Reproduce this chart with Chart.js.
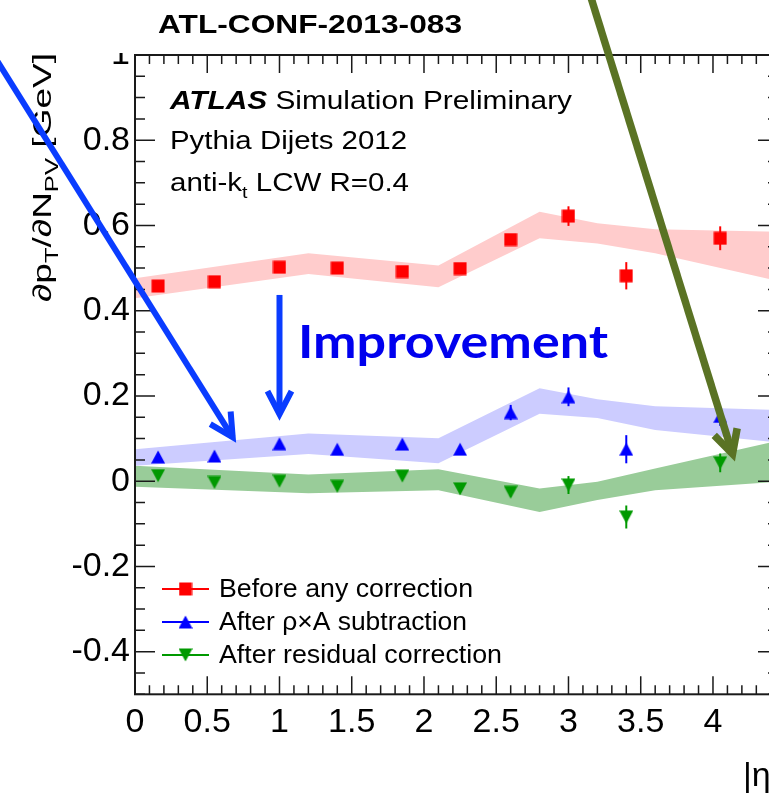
<!DOCTYPE html>
<html>
<head>
<meta charset="utf-8">
<script src="https://cdn.jsdelivr.net/npm/chart.js@4.4.0/dist/chart.umd.min.js"></script>
<style>
  html, body { margin: 0; padding: 0; background: #fff; overflow: hidden; }
  canvas { display: block; }
</style>
</head>
<body>
<canvas id="c" width="790" height="793"></canvas>
<script>
// |eta| bin centres
const eta = [0.16, 0.55, 1.0, 1.4, 1.85, 2.25, 2.6, 3.0, 3.4, 4.05];

// dpT/dNPV [GeV] at each stage, with statistical errors
const beforeVals   = [0.458, 0.468, 0.502, 0.500, 0.492, 0.499, 0.567, 0.622, 0.482, 0.570];
const beforeErr    = [0.006, 0.006, 0.006, 0.006, 0.006, 0.006, 0.010, 0.023, 0.032, 0.028];
const rhoAVals     = [0.057, 0.059, 0.088, 0.075, 0.087, 0.075, 0.161, 0.198, 0.075, 0.152];
const rhoAErr      = [0.006, 0.006, 0.006, 0.006, 0.006, 0.006, 0.018, 0.022, 0.033, 0.022];
const residualVals = [0.013, -0.003, 0.000, -0.012, 0.012, -0.018, -0.026, -0.009, -0.084, 0.043];
const residualErr  = [0.006, 0.006, 0.006, 0.006, 0.006, 0.006, 0.010, 0.021, 0.027, 0.022];

// shaded bands (upper / lower edges)
const bandEta    = [0, 1.2, 2.1, 2.8, 3.2, 3.6, 4.45];
const beforeHi   = [0.476, 0.535, 0.506, 0.632, 0.605, 0.591, 0.585];
const beforeLo   = [0.429, 0.486, 0.455, 0.570, 0.558, 0.535, 0.470];
const rhoAHi     = [0.075, 0.112, 0.101, 0.218, 0.192, 0.176, 0.167];
const rhoALo     = [0.036, 0.064, 0.042, 0.158, 0.148, 0.120, 0.091];
const residualHi = [0.036, 0.016, 0.028, -0.017, -0.001, 0.030, 0.095];
const residualLo = [-0.013, -0.028, -0.021, -0.072, -0.044, -0.021, -0.001];

const xTicks = [0, 0.5, 1, 1.5, 2, 2.5, 3, 3.5, 4];
const yTicks = [-0.4, -0.2, 0, 0.2, 0.4, 0.6, 0.8, 1];
const legendLabels = ['Before any correction', 'After \u03C1\u00D7A subtraction', 'After residual correction'];

// arrows, in (|eta|, dpT/dNPV) units
const arrows = [
  { from: [-0.97, 0.995], to: [0.70, 0.090], color: '#0a3cff', width: 6 },
  { from: [1.0, 0.437], to: [1.0, 0.142], color: '#0a3cff', width: 6 },
  { from: [3.15, 1.141], to: [4.152, 0.046], color: '#5a7324', width: 7.5 }
];

const F = '"Liberation Sans", Arial, Helvetica, sans-serif';
const RED = '#ff0000', BLUE = '#0000ff', GREEN = '#009900';

// ROOT-like markers: square, triangle up, triangle down
function marker(shape, color) {
  const c = document.createElement('canvas');
  c.width = 14; c.height = 14;
  const g = c.getContext('2d');
  g.fillStyle = color;
  g.beginPath();
  if (shape === 'square') {
    g.rect(0.5, 0.5, 13, 13);
  } else if (shape === 'up') {
    g.moveTo(7, 0.5); g.lineTo(14, 13.5); g.lineTo(0, 13.5);
  } else {
    g.moveTo(0, 0.5); g.lineTo(14, 0.5); g.lineTo(7, 13.5);
  }
  g.closePath();
  g.fill();
  return c;
}
const mkRed = marker('square', RED);
const mkBlue = marker('up', BLUE);
const mkGreen = marker('down', GREEN);

const pts = (xs, ys) => xs.map((x, i) => ({ x: x, y: ys[i] }));

function band(hi, lo, color) {
  return [
    { data: pts(bandEta, hi), fill: '+1', backgroundColor: color, borderColor: 'rgba(0,0,0,0)',
      borderWidth: 0, pointRadius: 0, tension: 0, order: 3 },
    { data: pts(bandEta, lo), fill: false, borderColor: 'rgba(0,0,0,0)',
      borderWidth: 0, pointRadius: 0, tension: 0, order: 3 }
  ];
}

function series(vals, errs, color, style) {
  return { data: pts(eta, vals), showLine: false, pointStyle: style, pointRadius: 7,
           borderColor: color, backgroundColor: color, errors: errs, order: 0 };
}

// text made of segments [text, font, dy], stretched to a given width
function drawRich(ctx, segs, x, y, width, angle) {
  let total = 0;
  const parts = segs.map(s => {
    ctx.font = s[1];
    const w = ctx.measureText(s[0]).width;
    total += w;
    return { t: s[0], f: s[1], dy: s[2] || 0, w: w };
  });
  ctx.save();
  ctx.translate(x, y);
  if (angle) ctx.rotate(angle);
  ctx.scale(width / total, 1);
  ctx.textAlign = 'left';
  ctx.textBaseline = 'alphabetic';
  let cx = 0;
  parts.forEach(p => { ctx.font = p.f; ctx.fillText(p.t, cx, p.dy); cx += p.w; });
  ctx.restore();
}

function drawArrow(ctx, x0, y0, x1, y1, color, lw) {
  const a = Math.atan2(y1 - y0, x1 - x0);
  const spread = 0.48, head = 26;
  // pull the vertex back so the mitred point lands on the tip
  const back = lw / (2 * Math.sin(spread));
  const vx = x1 - back * Math.cos(a), vy = y1 - back * Math.sin(a);
  ctx.save();
  ctx.strokeStyle = color;
  ctx.lineWidth = lw;
  ctx.lineCap = 'butt';
  ctx.lineJoin = 'miter';
  ctx.miterLimit = 10;
  ctx.beginPath();
  ctx.moveTo(x0, y0);
  ctx.lineTo(vx, vy);
  ctx.stroke();
  ctx.beginPath();
  ctx.moveTo(vx - head * Math.cos(a - spread), vy - head * Math.sin(a - spread));
  ctx.lineTo(vx, vy);
  ctx.lineTo(vx - head * Math.cos(a + spread), vy - head * Math.sin(a + spread));
  ctx.stroke();
  ctx.restore();
}

const errorBars = {
  id: 'errorBars',
  afterDatasetsDraw(chart) {
    const ctx = chart.ctx, xs = chart.scales.x, ys = chart.scales.y;
    chart.data.datasets.forEach(ds => {
      if (!ds.errors) return;
      ctx.save();
      ctx.strokeStyle = ds.borderColor;
      ctx.lineWidth = 2;
      ds.data.forEach((p, j) => {
        const x = xs.getPixelForValue(p.x);
        ctx.beginPath();
        ctx.moveTo(x, ys.getPixelForValue(p.y - ds.errors[j]));
        ctx.lineTo(x, ys.getPixelForValue(p.y + ds.errors[j]));
        ctx.stroke();
      });
      ctx.restore();
    });
  }
};

const decorations = {
  id: 'decorations',
  afterDraw(chart) {
    const ctx = chart.ctx, xs = chart.scales.x, ys = chart.scales.y;
    const { left, right, top, bottom } = chart.chartArea;

    // frame with inward ticks on all four sides
    ctx.save();
    ctx.strokeStyle = '#1a1a1a';
    ctx.lineWidth = 2;
    ctx.strokeRect(left, top, right - left, bottom - top);
    ctx.lineWidth = 1.5;
    ctx.beginPath();
    for (let i = 0; i <= 44; i++) {
      const x = xs.getPixelForValue(i / 10);
      const len = i % 5 === 0 ? 18 : 9;
      ctx.moveTo(x, bottom); ctx.lineTo(x, bottom - len);
      ctx.moveTo(x, top); ctx.lineTo(x, top + len);
    }
    for (let i = -10; i <= 20; i++) {
      const y = ys.getPixelForValue(i * 0.05);
      const len = i % 4 === 0 ? 20 : 10;
      ctx.moveTo(left, y); ctx.lineTo(left + len, y);
      ctx.moveTo(right, y); ctx.lineTo(right - len, y);
    }
    ctx.stroke();
    ctx.restore();

    // white strip behind the conference note number
    ctx.fillStyle = '#ffffff';
    ctx.fillRect(0, 0, chart.width, 53);

    ctx.fillStyle = '#000000';
    drawRich(ctx, [['ATL-CONF-2013-083', `bold 25.5px ${F}`]], 158, 33, 304);
    drawRich(ctx, [['ATLAS', `italic bold 26.5px ${F}`], [' Simulation Preliminary', `26.5px ${F}`]], 170, 109, 402);
    drawRich(ctx, [['Pythia Dijets 2012', `25.5px ${F}`]], 170, 149, 237);
    drawRich(ctx, [['anti-k', `25.5px ${F}`], ['t', `17px ${F}`, 7], [' LCW R=0.4', `25.5px ${F}`]], 170, 191, 239);

    // axis titles
    drawRich(ctx, [['\u2202p', `26px ${F}`], ['T', `18px ${F}`, 7], ['/\u2202N', `26px ${F}`],
                   ['PV', `18px ${F}`, 7], [' [GeV]', `26px ${F}`]], 51, 302, 249, -Math.PI / 2);
    ctx.font = `34px ${F}`;
    ctx.fillText('|\u03B7|', 743, 786);

    // legend
    const rows = [[mkRed, RED], [mkBlue, BLUE], [mkGreen, GREEN]];
    const rowY = [589, 622, 655];
    const widths = [254, 248, 283];
    rows.forEach((r, i) => {
      const cy = rowY[i];
      ctx.save();
      ctx.strokeStyle = r[1];
      ctx.lineWidth = 2;
      ctx.beginPath();
      ctx.moveTo(162, cy); ctx.lineTo(209, cy);
      ctx.stroke();
      ctx.drawImage(r[0], 185.5 - 7, cy - 7);
      ctx.restore();
      ctx.fillStyle = '#000000';
      drawRich(ctx, [[legendLabels[i], `25.5px ${F}`]], 219, cy + 8, widths[i]);
    });

    // annotation
    ctx.fillStyle = '#0000ee';
    drawRich(ctx, [['Improvement', `bold 46px Lato, ${F}`]], 298, 358, 310);
    arrows.forEach(a => {
      drawArrow(ctx, xs.getPixelForValue(a.from[0]), ys.getPixelForValue(a.from[1]),
                xs.getPixelForValue(a.to[0]), ys.getPixelForValue(a.to[1]), a.color, a.width);
    });
  }
};

new Chart(document.getElementById('c'), {
  type: 'line',
  data: {
    datasets: [
      ...band(beforeHi, beforeLo, '#ffcccc'),
      ...band(rhoAHi, rhoALo, '#ccccff'),
      ...band(residualHi, residualLo, '#99cc99'),
      series(beforeVals, beforeErr, RED, mkRed),
      series(rhoAVals, rhoAErr, BLUE, mkBlue),
      series(residualVals, residualErr, GREEN, mkGreen)
    ]
  },
  options: {
    responsive: false,
    animation: false,
    devicePixelRatio: 1,
    layout: { padding: { top: 55, right: 12, left: 0, bottom: 0 } },
    plugins: { legend: { display: false }, tooltip: { enabled: false } },
    scales: {
      x: {
        type: 'linear',
        min: 0,
        max: 4.45,
        grid: { display: false, drawTicks: false },
        border: { display: false },
        afterBuildTicks: s => { s.ticks = xTicks.map(v => ({ value: v })); },
        afterFit: s => { s.height = 98.7; },
        ticks: { color: '#000', font: { family: F, size: 34 }, padding: 8, maxRotation: 0,
                 callback: v => String(v) }
      },
      y: {
        type: 'linear',
        min: -0.5,
        max: 1,
        grid: { display: false, drawTicks: false },
        border: { display: false },
        afterBuildTicks: s => { s.ticks = yTicks.map(v => ({ value: v })); },
        afterFit: s => { s.width = 135; },
        ticks: { color: '#000', font: { family: F, size: 34 }, padding: 5,
                 callback: v => String(Math.round(v * 10) / 10) }
      }
    }
  },
  plugins: [errorBars, decorations]
});
</script>
</body>
</html>
